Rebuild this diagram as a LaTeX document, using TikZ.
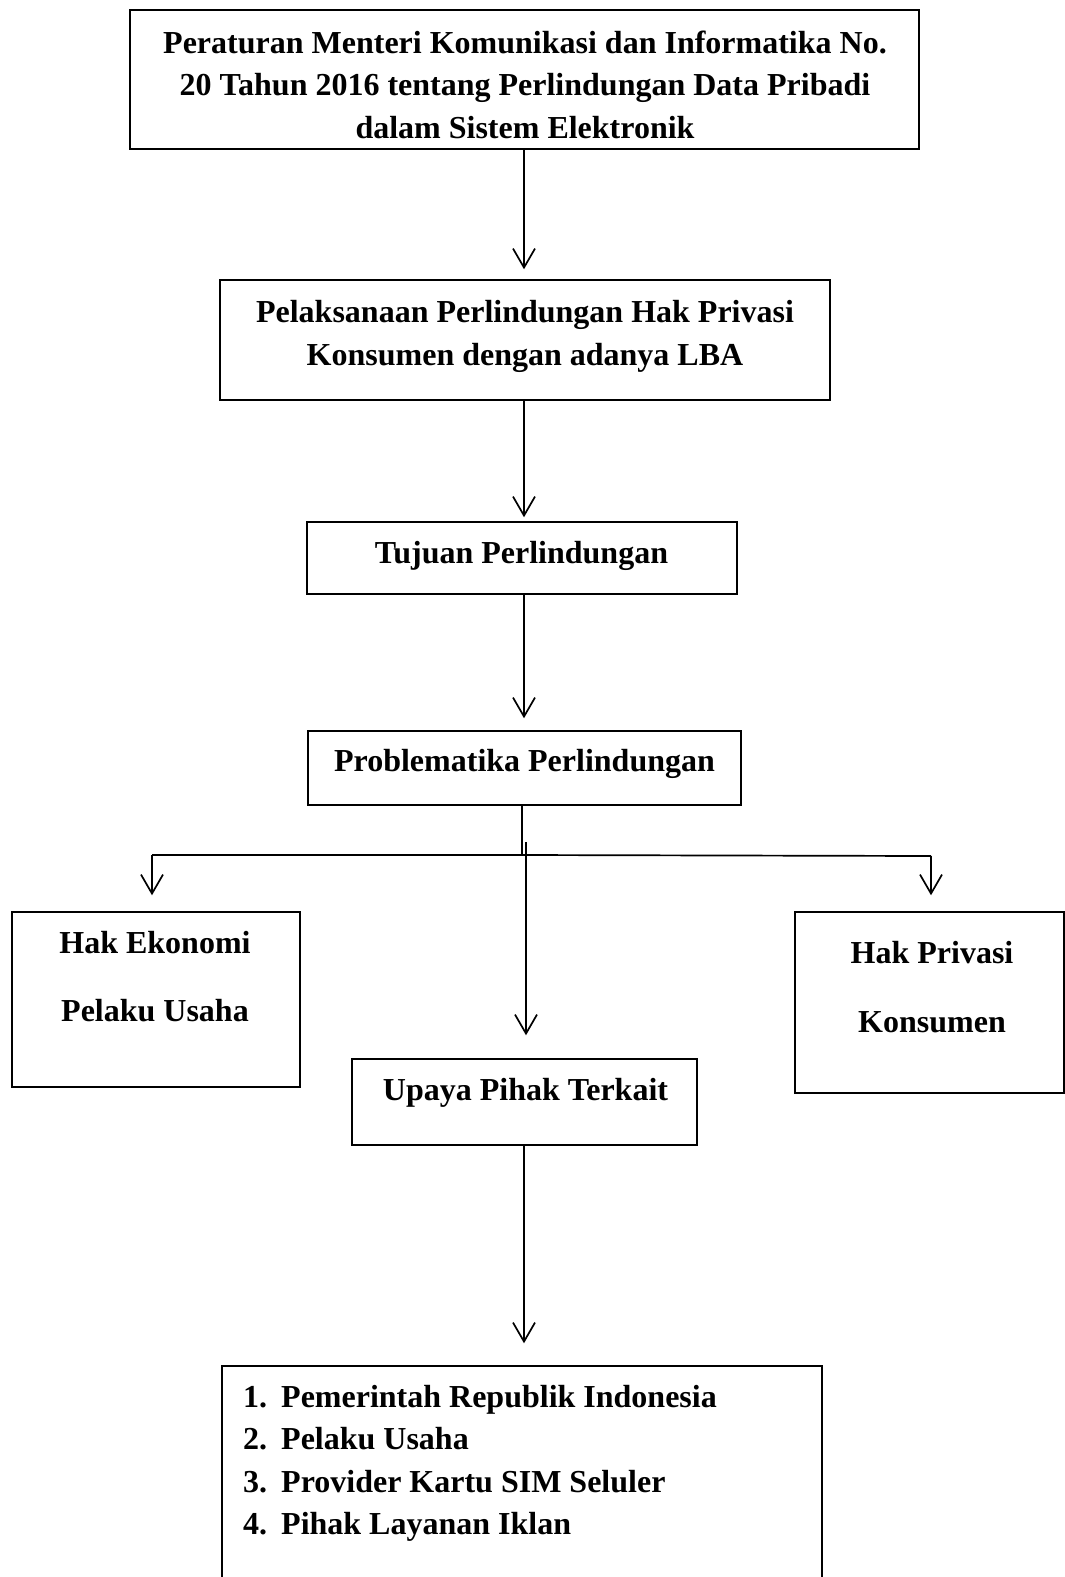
\documentclass[tikz,border=0pt]{standalone}
\usepackage{fontspec}
\setmainfont{Liberation Serif}
\usetikzlibrary{arrows.meta,calc}
\tikzset{
  box/.style={draw=black, line width=1.5pt, inner sep=0pt, fill=none},
  lbl/.style={font=\fontsize{32}{42.5}\selectfont\bfseries, inner sep=0pt, anchor=base, align=center},
  lst/.style={font=\fontsize{32}{42.5}\selectfont\bfseries, inner sep=0pt, anchor=base west},
  arr/.style={line width=1.7pt, -{Straight Barb[length=19pt,width=22pt,line width=1.7pt]}},
  ln/.style={line width=1.7pt}
}
\begin{document}
\begin{tikzpicture}[x=1pt,y=-1pt]
\useasboundingbox[fill=white] (0,0) rectangle (1065,1577);
% boxes
\node[box, minimum width=789pt, minimum height=139pt] (b1) at (524.5,79.5) {};
\node[box, minimum width=610pt, minimum height=120pt] (b2) at (525,340) {};
\node[box, minimum width=430pt, minimum height=72pt] (b3) at (522,558) {};
\node[box, minimum width=433pt, minimum height=74pt] (b4) at (524.5,768) {};
\node[box, minimum width=288pt, minimum height=175pt] (bl) at (156,999.5) {};
\node[box, minimum width=269pt, minimum height=181pt] (br) at (929.5,1002.5) {};
\node[box, minimum width=345pt, minimum height=86pt] (b5) at (524.5,1102) {};
\node[box, minimum width=600pt, minimum height=260pt] (b6) at (522,1496) {};
% texts
\node[lbl] (t1) at (525,138) {Peraturan Menteri Komunikasi dan Informatika No.\\20 Tahun 2016 tentang Perlindungan Data Pribadi\\dalam Sistem Elektronik};
\node[lbl] (t2) at (525,365) {Pelaksanaan Perlindungan Hak Privasi\\Konsumen dengan adanya LBA};
\node[lbl] (t3) at (521.5,563) {Tujuan Perlindungan};
\node[lbl] (t4) at (524.5,771) {Problematika Perlindungan};
\node[lbl] (tl1) at (155,953) {Hak Ekonomi};
\node[lbl] (tl2) at (155,1021) {Pelaku Usaha};
\node[lbl] (tr1) at (932,963) {Hak Privasi};
\node[lbl] (tr2) at (932,1032) {Konsumen};
\node[lbl] (t5) at (525.5,1100) {Upaya Pihak Terkait};
\node[lst] (n1) at (243,1407) {1.};
\node[lst] (n2) at (243,1449.5) {2.};
\node[lst] (n3) at (243,1492) {3.};
\node[lst] (n4) at (243,1534.5) {4.};
\node[lst] (i1) at (281,1407) {Pemerintah Republik Indonesia};
\node[lst] (i2) at (281,1449.5) {Pelaku Usaha};
\node[lst] (i3) at (281,1492) {Provider Kartu SIM Seluler};
\node[lst] (i4) at (281,1534.5) {Pihak Layanan Iklan};
% connectors
\draw[arr, shorten >=10pt] (b1.south -| 524,0) -- (b2.north -| 524,0);
\draw[arr, shorten >=4pt] (b2.south -| 524,0) -- (b3.north -| 524,0);
\draw[arr, shorten >=12pt] (b3.south -| 524,0) -- (b4.north -| 524,0);
\coordinate (j) at (522,855);
\coordinate (jl) at (152,855);
\coordinate (jr) at (931,856);
\coordinate (m) at (526,842);
\draw[ln] (b4.south -| j) -- (j);
\draw[ln] (jl) -- (j) -- (jr);
\draw[arr, shorten >=16pt] (jl) -- (bl.north -| jl);
\draw[arr, shorten >=16pt] (jr) -- (br.north -| jr);
\draw[arr, shorten >=23pt] (m) -- (b5.north -| m);
\draw[arr, shorten >=22pt] (b5.south -| 524,0) -- (b6.north -| 524,0);
\end{tikzpicture}
\end{document}
